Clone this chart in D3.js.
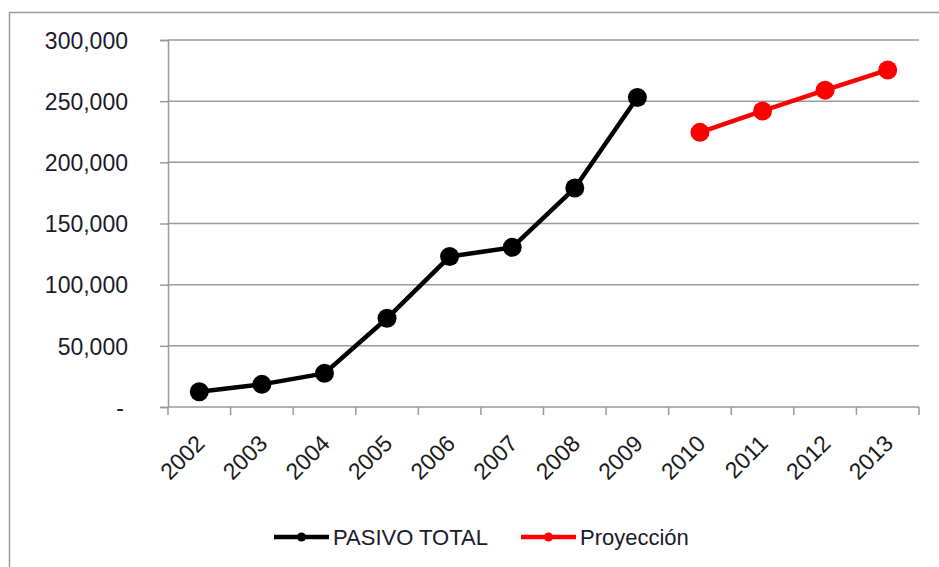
<!DOCTYPE html>
<html>
<head>
<meta charset="utf-8">
<script src="https://cdn.jsdelivr.net/npm/d3@7"></script>
<style>
  body { margin: 0; background: #fff; }
  svg { display: block; font-family: "Liberation Sans", Arial, sans-serif; }
</style>
</head>
<body>
<svg width="939" height="567"></svg>
<script>
const years = ['2002', '2003', '2004', '2005', '2006', '2007', '2008', '2009', '2010', '2011', '2012', '2013'];
const pasivoYears = ['2002', '2003', '2004', '2005', '2006', '2007', '2008', '2009'];
const pasivo = [12500, 18500, 27500, 72500, 123000, 130500, 179000, 253000];
const proyYears = ['2010', '2011', '2012', '2013'];
const proyeccion = [224500, 242000, 259000, 275500];
const yTicks = [0, 50000, 100000, 150000, 200000, 250000, 300000];
const seriesNames = ['PASIVO TOTAL', 'Proyección'];

const svg = d3.select('svg');
const plotLeft = 168, plotRight = 919, plotTop = 40, plotBottom = 407;
const gridColor = '#9a9a9a';

// outer frame
svg.append('rect')
    .attr('x', 9.5).attr('y', 12.5)
    .attr('width', 1000).attr('height', 1000)
    .attr('fill', 'none')
    .attr('stroke', gridColor)
    .attr('stroke-width', 1.5);

let x = d3.scaleBand().domain(years).range([plotLeft, plotRight]).padding(0);
let y = d3.scaleLinear().domain([0, 300000]).range([plotBottom, plotTop]);

// gridlines
svg.append('g')
    .selectAll('line')
    .data(yTicks.filter(d => d > 0))
    .enter().append('line')
    .attr('x1', plotLeft).attr('x2', plotRight)
    .attr('y1', d => y(d)).attr('y2', d => y(d))
    .attr('stroke', gridColor)
    .attr('stroke-width', 1.5);

// y axis
let yAxis = svg.append('g')
    .attr('transform', `translate(${plotLeft},0)`)
    .call(d3.axisLeft(y).tickValues(yTicks).tickSize(8).tickPadding(32)
        .tickFormat(d => d === 0 ? '-' : d3.format(',')(d)));
yAxis.select('.domain').attr('stroke', gridColor).attr('stroke-width', 1.5);
yAxis.selectAll('.tick line').attr('stroke', gridColor).attr('stroke-width', 1.5);
yAxis.selectAll('.tick text')
    .attr('fill', '#1a1a2a')
    .style('font-size', '23px')
    .style('font-family', '"Liberation Sans", Arial, sans-serif')
    .attr('dy', '0.36em');
yAxis.selectAll('.tick').filter(d => d === 0).select('text').attr('dx', '-4px');

// x axis: line + ticks between categories
let edges = years.map(d => x(d)).concat([x(years[years.length - 1]) + x.bandwidth()]);
let xAxis = svg.append('g');
xAxis.append('line')
    .attr('x1', plotLeft).attr('x2', plotRight)
    .attr('y1', plotBottom).attr('y2', plotBottom)
    .attr('stroke', gridColor).attr('stroke-width', 1.5);
xAxis.selectAll('line.tick')
    .data(edges)
    .enter().append('line')
    .attr('class', 'tick')
    .attr('x1', d => d).attr('x2', d => d)
    .attr('y1', plotBottom).attr('y2', plotBottom + 8)
    .attr('stroke', gridColor).attr('stroke-width', 1.5);
xAxis.selectAll('text')
    .data(years)
    .enter().append('text')
    .attr('transform', d => `translate(${x(d) + x.bandwidth() / 2 + 1},${plotBottom + 32}) rotate(-45)`)
    .attr('text-anchor', 'end')
    .attr('dy', '0.36em')
    .attr('fill', '#1a1a1a')
    .style('font-size', '23px')
    .text(d => d);

// series
const series = [
    { name: seriesNames[0], color: '#000000', data: pasivoYears.map((d, i) => ({ year: d, value: pasivo[i] })) },
    { name: seriesNames[1], color: '#ff0000', data: proyYears.map((d, i) => ({ year: d, value: proyeccion[i] })) }
];

let line = d3.line()
    .x(d => x(d.year) + x.bandwidth() / 2)
    .y(d => y(d.value));

series.forEach(s => {
    svg.append('path')
        .datum(s.data)
        .attr('d', line)
        .attr('fill', 'none')
        .attr('stroke', s.color)
        .attr('stroke-width', 4.5)
        .attr('stroke-linejoin', 'round');
    svg.append('g')
        .selectAll('circle')
        .data(s.data)
        .enter().append('circle')
        .attr('cx', d => x(d.year) + x.bandwidth() / 2)
        .attr('cy', d => y(d.value))
        .attr('r', 9.5)
        .attr('fill', s.color);
});

// legend
const legendX = [274, 521];
const legendY = 537;
series.forEach((s, i) => {
    let g = svg.append('g').attr('transform', `translate(${legendX[i]},${legendY})`);
    g.append('line')
        .attr('x1', 0).attr('x2', 55)
        .attr('y1', 0).attr('y2', 0)
        .attr('stroke', s.color)
        .attr('stroke-width', 4.5);
    g.append('circle')
        .attr('cx', 27.5).attr('cy', 0)
        .attr('r', 4.5)
        .attr('fill', s.color);
    g.append('text')
        .attr('x', 59).attr('y', 0)
        .attr('dy', '0.36em')
        .attr('fill', '#1a1a2a')
        .style('font-size', '22px')
        .text(s.name);
});
</script>
</body>
</html>
